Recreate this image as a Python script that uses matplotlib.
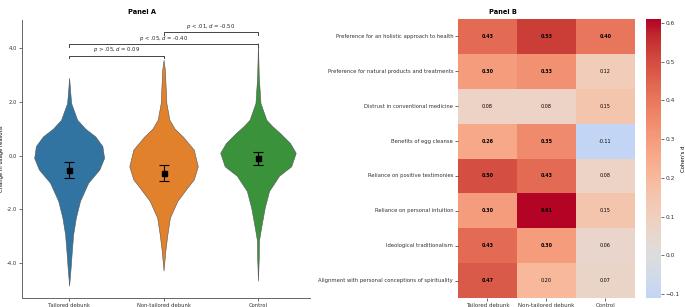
import pandas as pd
import matplotlib.pyplot as plt
import seaborn as sns

# --- Panel A data (violin outlines) ---
groups = ['Tailored debunk', 'Non-tailored debunk', 'Control']
colors = ['#3274a1', '#e1812c', '#3a923a']

tailored_y = [2.89, 2.4, 1.95, 1.33, 1.0, 0.71, 0.35, -0.09, -0.52, -1.01, -1.69, -2.31, -2.93, -3.54, -4.16, -4.84]
tailored_dens = [0, 1.0, 2.0, 8.0, 16.0, 26.0, 33.0, 34.7, 30.0, 19.0, 10.8, 6.7, 4.0, 2.7, 1.5, 0]

nontailored_y = [3.56, 3.19, 1.95, 1.33, 1.0, 0.71, 0.22, -0.4, -0.89, -1.15, -1.69, -2.31, -2.93, -3.54, -4.28]
nontailored_dens = [0, 1.3, 2.8, 5.8, 11.0, 19.0, 30.0, 34.0, 30.0, 24.5, 13.7, 6.3, 3.8, 1.8, 0]

control_y = [4.19, 2.94, 1.95, 1.33, 1.1, 0.84, 0.47, 0.1, -0.4, -0.75, -1.32, -1.94, -2.56, -2.93, -3.17, -3.79, -4.66]
control_dens = [0, 0.8, 2.5, 8.3, 14.0, 21.7, 31.7, 37.5, 33.0, 21.0, 11.0, 6.7, 3.7, 2.0, 1.0, 0.8, 0]

means = [-0.53, -0.64, -0.11]
ci = [0.30, 0.29, 0.25]

comparisons = [(0, 1, 'p > .05', '0.09'), (0, 2, 'p < .05', '-0.40'), (1, 2, 'p < .01', '-0.50')]

# --- Panel B data ---
reasons = ['Preference for an holistic approach to health',
           'Preference for natural products and treatments',
           'Distrust in conventional medicine',
           'Benefits of egg cleanse',
           'Reliance on positive testimonies',
           'Reliance on personal intuition',
           'Ideological traditionalism',
           'Alignment with personal conceptions of spirituality']
d_tailored = [0.43, 0.30, 0.08, 0.26, 0.50, 0.30, 0.43, 0.47]
d_nontailored = [0.53, 0.33, 0.08, 0.35, 0.43, 0.61, 0.30, 0.20]
d_control = [0.40, 0.12, 0.15, -0.11, 0.08, 0.15, 0.06, 0.07]
sig_tailored = [1, 1, 0, 1, 1, 1, 1, 1]
sig_nontailored = [1, 1, 0, 1, 1, 1, 1, 0]
sig_control = [1, 0, 0, 0, 0, 0, 0, 0]

fs = 3.8
fig = plt.figure(figsize=(6.85, 3.07), dpi=100)

# ---------------- Panel A ----------------
ax = fig.add_axes([0.032, 0.0293, 0.4204, 0.9055])
outlines = [(tailored_y, tailored_dens), (nontailored_y, nontailored_dens), (control_y, control_dens)]
peak = max(max(d) for _, d in outlines)
stats = []
for (ys, ds), m in zip(outlines, means):
    stats.append({'coords': ys, 'vals': ds, 'mean': m, 'median': m, 'min': min(ys), 'max': max(ys)})
widths = [0.8 * max(d) / peak for _, d in outlines]
parts = ax.violin(stats, positions=range(3), widths=widths,
                  showmeans=False, showextrema=False, showmedians=False)
for body, c in zip(parts['bodies'], colors):
    body.set_facecolor(c)
    body.set_edgecolor('#555555')
    body.set_linewidth(0.4)
    body.set_alpha(1)

ax.errorbar(range(3), means, yerr=ci, fmt='s', color='black', markersize=3.6,
            capsize=3.6, elinewidth=0.8, capthick=0.8, zorder=5)

# significance brackets
levels = [3.71, 4.15, 4.58]
for (a, b, p, d), yb in zip(comparisons, levels):
    ax.plot([a, a, b, b], [yb - 0.1, yb, yb, yb - 0.1], color='#444444', lw=0.7)
    ax.text((a + b) / 2, yb + 0.05, f'$p$ {p[2:]}, $d$ = {d}', ha='center', va='bottom',
            fontsize=fs, color='#222222')

ax.set_xlim(-0.5, 2.55)
ax.set_ylim(-5.3, 5.04)
ax.set_xticks(range(3))
ax.set_xticklabels(groups, fontsize=fs)
ax.set_yticks([-4, -2, 0, 2, 4])
ax.set_yticklabels([f'{t:.1f}' for t in [-4, -2, 0, 2, 4]], fontsize=fs)
ax.set_ylabel('Change in usage reasons', fontsize=fs, labelpad=2)
for s in ['top', 'right']:
    ax.spines[s].set_visible(False)
for s in ['left', 'bottom']:
    ax.spines[s].set_color('#666666')
    ax.spines[s].set_linewidth(0.7)
ax.tick_params(length=2, width=0.5, pad=1.5, colors='#333333')

# ---------------- Panel B ----------------
axh = fig.add_axes([0.6686, 0.0293, 0.2584, 0.9088])
cax = fig.add_axes([0.943, 0.0293, 0.0219, 0.9088])
df = pd.DataFrame({groups[0]: d_tailored, groups[1]: d_nontailored, groups[2]: d_control}, index=reasons)
sig = pd.DataFrame({groups[0]: sig_tailored, groups[1]: sig_nontailored, groups[2]: sig_control}, index=reasons)
sns.heatmap(df, ax=axh, cbar_ax=cax, cmap='coolwarm', center=0, annot=False)
for i in range(len(reasons)):
    for j in range(3):
        axh.text(j + 0.5, i + 0.5, f'{df.iloc[i, j]:.2f}', ha='center', va='center', fontsize=3.5,
                 color='black', fontweight='bold' if sig.iloc[i, j] else 'normal')
axh.set_xticklabels(groups, fontsize=fs + 0.2, rotation=0)
axh.set_yticklabels(reasons, fontsize=fs, rotation=0)
axh.tick_params(length=2, width=0.5, pad=1.5, colors='#333333')

cax.set_yticks([-0.1, 0.0, 0.1, 0.2, 0.3, 0.4, 0.5, 0.6])
cax.tick_params(labelsize=4.2, length=2, width=0.5, pad=1.5, colors='#333333')
cax.set_ylabel("Cohen's d", fontsize=3.9, labelpad=1)

fig.text(141.5 / 685, 1 - 12 / 307, 'Panel A', fontsize=4.8, fontweight='bold', ha='center', va='center')
fig.text(503 / 685, 1 - 12 / 307, 'Panel B', fontsize=4.8, fontweight='bold', ha='center', va='center')

fig.savefig('out.png', dpi=100)
